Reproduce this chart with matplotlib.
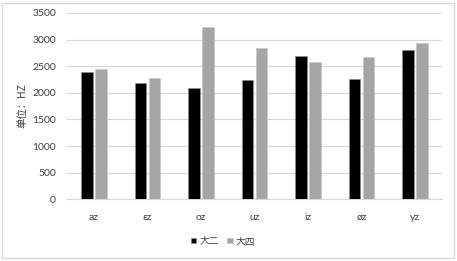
import matplotlib.pyplot as plt
import numpy as np
from matplotlib.patches import Rectangle

plt.rcParams['font.family'] = ['Lato', 'Noto Sans CJK SC', 'DejaVu Sans']

categories = ["az", "εz", "oz", "uz", "iz", "øz", "yz"]
year2 = [2395, 2190, 2097, 2236, 2692, 2260, 2805]
year4 = [2448, 2273, 3237, 2848, 2574, 2679, 2936]
series_names = ["大二", "大四"]

fig = plt.figure(figsize=(4.57, 2.61), dpi=100)
ax = fig.add_axes([67 / 457, 1 - 199.3 / 261, 375 / 457, 186.3 / 261])

x = np.arange(len(categories))
w = 0.215
ax.bar(x - 0.13, year2, width=w, color="black", edgecolor="#8c8c8c", linewidth=0.5, label=series_names[0], zorder=3)
ax.bar(x + 0.13, year4, width=w, color="#a5a5a5", edgecolor="#c8c8c8", linewidth=0.5, label=series_names[1], zorder=3)

ax.set_xlim(-0.5, len(categories) - 0.5)
ax.set_ylim(0, 3500)
ax.set_yticks(np.arange(0, 3501, 500))
ax.set_xticks(x)
ax.set_xticklabels(categories)
ax.grid(axis="y", color="#d9d9d9", linewidth=0.8, zorder=0)
for s in ["top", "right", "left"]:
    ax.spines[s].set_visible(False)
ax.spines["bottom"].set_color("#d9d9d9")
ax.tick_params(axis="both", length=0, labelsize=7.5, colors="#404040", pad=8)
ax.tick_params(axis="x", pad=10)

fig.text(22 / 457, 1 - 106 / 261, "单位：HZ", rotation=90, ha="center", va="center",
         fontsize=7.5, color="#404040", family=["Noto Sans CJK SC", "DejaVu Sans"])

leg = fig.legend(loc="center", bbox_to_anchor=(223 / 457, 1 - 241 / 261), ncol=2, frameon=False,
                 handlelength=0.55, handleheight=0.55, handletextpad=0.3, columnspacing=0.9,
                 prop={"family": ["Noto Sans CJK SC", "DejaVu Sans"], "size": 7})
for t in leg.get_texts():
    t.set_color("#404040")

fig.patches.append(Rectangle((2 / 457, 3 / 261), 452 / 457, 255 / 261, transform=fig.transFigure,
                             fill=False, edgecolor="#d9d9d9", linewidth=1))

fig.savefig("out.png", dpi=100)
